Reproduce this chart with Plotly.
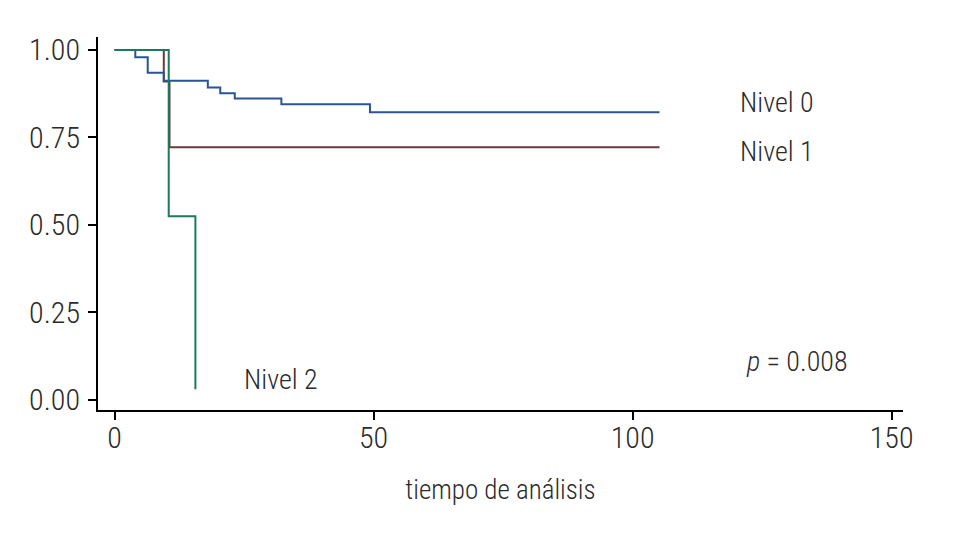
import plotly.graph_objects as go

# Kaplan-Meier step curves
nivel0_t = [0, 4.0, 6.4, 9.5, 18.0, 20.4, 23.2, 32.2, 49.3, 105.2]
nivel0_s = [1.0, 0.979, 0.935, 0.912, 0.893, 0.876, 0.861, 0.845, 0.822, 0.822]

nivel1_t = [0, 9.5, 10.6, 105.2]
nivel1_s = [1.0, 0.91, 0.722, 0.722]

nivel2_t = [0, 10.45, 15.6]
nivel2_s = [1.0, 0.525, 0.03]

x_ticks = [0, 50, 100, 150]
y_ticks = [0.0, 0.25, 0.5, 0.75, 1.0]
y_tick_text = ["0.00", "0.25", "0.50", "0.75", "1.00"]

FONT = "Roboto Condensed, Liberation Sans Narrow, sans-serif"
TEXT = "#2b2b2b"

fig = go.Figure()
fig.add_trace(go.Scatter(x=nivel1_t, y=nivel1_s, mode="lines", line_shape="hv",
                         line={"color": "#6B3A40", "width": 2}, hoverinfo="skip"))
fig.add_trace(go.Scatter(x=nivel0_t, y=nivel0_s, mode="lines", line_shape="hv",
                         line={"color": "#2A5595", "width": 2}, hoverinfo="skip"))
fig.add_trace(go.Scatter(x=nivel2_t, y=nivel2_s, mode="lines", line_shape="hv",
                         line={"color": "#1B7A5A", "width": 2}, hoverinfo="skip"))

labels = [
    (120.3, 0.849, "Nivel 0"),
    (120.3, 0.709, "Nivel 1"),
    (24.6, 0.057, "Nivel 2"),
    (121.5, 0.109, "<i>p</i> = 0.008"),
]
for x, y, txt in labels:
    fig.add_annotation(x=x, y=y, text=txt, showarrow=False, xanchor="left", yanchor="middle",
                       font={"family": FONT, "size": 28, "color": TEXT, "weight": 300})

# page body has an 8px margin, so the figure is shrunk and shifted to compensate
fig.update_layout(
    width=950,
    height=525,
    showlegend=False,
    paper_bgcolor="white",
    plot_bgcolor="white",
    margin={"l": 90, "r": 55, "t": 29, "b": 123},
    font={"family": FONT, "size": 30, "color": TEXT, "weight": 300},
)
fig.update_xaxes(
    range=[-3.2, 152.2], tickvals=x_ticks, showgrid=False, zeroline=False,
    showline=True, linecolor="black", linewidth=2, ticks="outside", ticklen=8,
    tickcolor="black", tickwidth=2, automargin=False, ticklabelstandoff=-8,
    title={"text": "tiempo de análisis", "standoff": 26,
           "font": {"size": 27, "weight": 300}},
)
fig.update_yaxes(
    range=[-0.029, 1.037], tickvals=y_ticks, ticktext=y_tick_text, showgrid=False,
    zeroline=False, showline=True, linecolor="black", linewidth=2, ticks="outside",
    ticklen=8, tickcolor="black", tickwidth=2, ticklabelstandoff=2, automargin=False,
)

fig.write_html("out.html")
